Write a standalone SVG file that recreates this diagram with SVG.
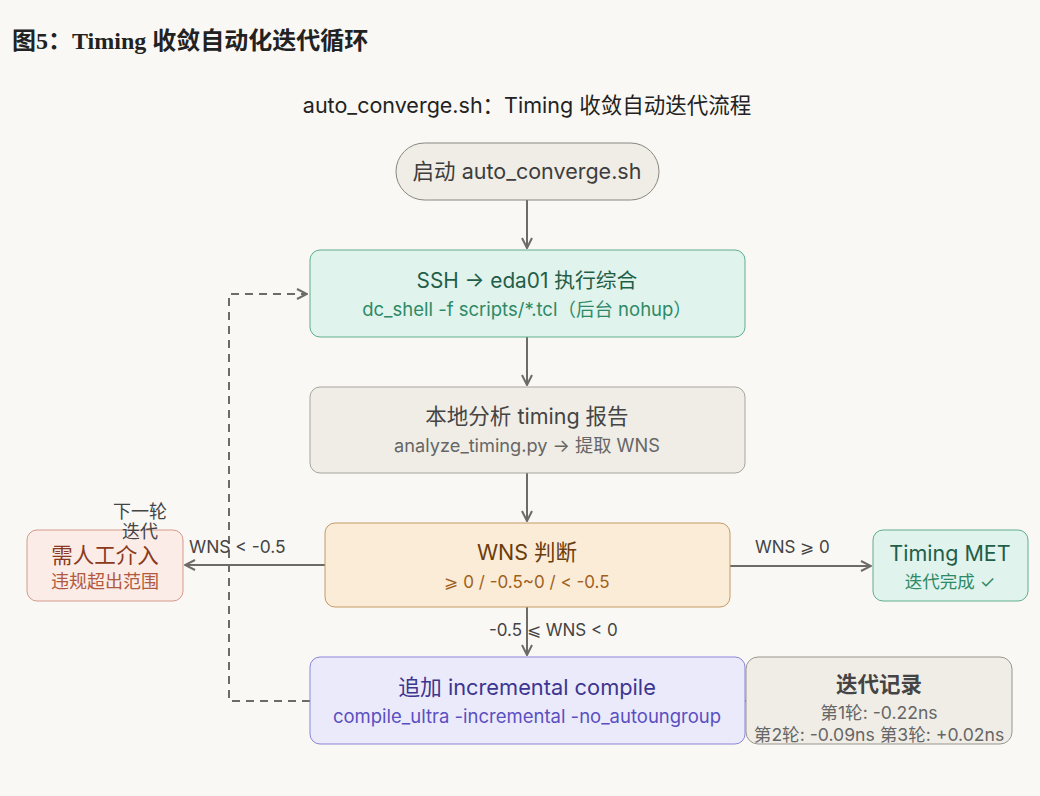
<svg xmlns="http://www.w3.org/2000/svg" width="1040" height="796" viewBox="0 0 1040 796">
<style>
text{font-family:Inter,"Noto Sans","Noto Sans CJK SC",sans-serif;text-anchor:middle}
.lbl{font-size:17px;fill:#444;text-anchor:start}
.conn{stroke:#6e6b67;stroke-width:2;fill:none}
</style>
<defs>
<marker id="ah" viewBox="0 0 12 12" refX="11" refY="6" markerWidth="12" markerHeight="12" markerUnits="userSpaceOnUse" orient="auto">
<path d="M1,1 L11,6 L1,11" fill="none" stroke="#6e6b67" stroke-width="2"/>
</marker>
</defs>
<rect width="1040" height="796" fill="#f9f8f4"/>
<text x="12" y="49" style="font-family:'Liberation Serif','Noto Sans CJK SC',serif;font-size:24px;font-weight:bold;text-anchor:start;fill:#222">图5：Timing 收敛自动化迭代循环</text>
<text x="527" y="113" style="font-size:21.5px;fill:#222">auto_converge.sh：Timing 收敛自动迭代流程</text>

<g id="connectors">
<line class="conn" x1="527" y1="200" x2="527" y2="248" marker-end="url(#ah)"/>
<line class="conn" x1="527" y1="337" x2="527" y2="385" marker-end="url(#ah)"/>
<line class="conn" x1="527" y1="473" x2="527" y2="521" marker-end="url(#ah)"/>
<line class="conn" x1="325" y1="565" x2="185" y2="565" marker-end="url(#ah)"/>
<line class="conn" x1="730" y1="566" x2="871" y2="566" marker-end="url(#ah)"/>
<line class="conn" x1="527" y1="607" x2="527" y2="655" marker-end="url(#ah)"/>
<line class="conn" x1="746" y1="701" x2="678" y2="701" marker-end="url(#ah)"/>
<path class="conn" d="M310,701 H229 V294 H307" stroke-dasharray="8,6" marker-end="url(#ah)"/>
</g>

<g id="start">
<rect x="396" y="143" width="263" height="57" rx="28.5" fill="#f0ede6" stroke="#8a8580" stroke-width="1"/>
<text x="527" y="179" style="font-size:21.5px;fill:#3d3d3d">启动 auto_converge.sh</text>
</g>

<g id="ssh">
<rect x="310" y="250" width="435" height="87" rx="10" fill="#e0f3ec" stroke="#5fae8e" stroke-width="1"/>
<text x="527" y="288" style="font-size:20.8px" fill="#1f5e48">SSH → eda01 执行综合</text>
<text x="527" y="316" style="font-size:18.5px" fill="#2e8a66">dc_shell -f scripts/*.tcl（后台 nohup）</text>
</g>

<g id="analyze">
<rect x="310" y="387" width="435" height="86" rx="10" fill="#f0ede6" stroke="#a8a49e" stroke-width="1"/>
<text x="527" y="424" style="font-size:21.5px" fill="#444">本地分析 timing 报告</text>
<text x="527" y="452" style="font-size:18.2px" fill="#666">analyze_timing.py → 提取 WNS</text>
</g>

<g id="wns">
<rect x="325" y="523" width="405" height="84" rx="10" fill="#fbecd8" stroke="#c49a64" stroke-width="1"/>
<text x="527" y="560" style="font-size:21.5px" fill="#6b3d0c">WNS 判断</text>
<text x="527" y="588" style="font-size:17px" fill="#a0601a">⩾ 0 / -0.5~0 / &lt; -0.5</text>
</g>

<g id="manual">
<rect x="27" y="530" width="156" height="71" rx="10" fill="#fbece8" stroke="#d49a8a" stroke-width="1"/>
<text x="105" y="563" style="font-size:21.5px" fill="#8a3a20">需人工介入</text>
<text x="105" y="588" style="font-size:18px" fill="#b05a40">违规超出范围</text>
</g>

<g id="met">
<rect x="873" y="530" width="155" height="71" rx="10" fill="#e0f3ec" stroke="#5fae8e" stroke-width="1"/>
<text x="950" y="561" style="font-size:21.5px" fill="#1f5e48">Timing MET</text>
<text x="950" y="588" style="font-size:17.5px" fill="#2e8a66">迭代完成 ✓</text>
</g>

<g id="compile">
<rect x="310" y="657" width="435" height="87" rx="10" fill="#ebeafb" stroke="#8a85d8" stroke-width="1"/>
<text x="527" y="695" style="font-size:21.8px" fill="#3d3590">追加 incremental compile</text>
<text x="527" y="723" style="font-size:18.5px" fill="#5a4fc0">compile_ultra -incremental -no_autoungroup</text>
</g>

<g id="record">
<rect x="746" y="657" width="266" height="87" rx="12" fill="#f0ede6" stroke="#999590" stroke-width="1"/>
<text x="879" y="692" style="font-size:21.5px;font-weight:600" fill="#444">迭代记录</text>
<text x="879" y="719" style="font-size:17.6px" fill="#666">第1轮: -0.22ns</text>
<text x="879" y="741" style="font-size:17.6px" fill="#666">第2轮: -0.09ns 第3轮: +0.02ns</text>
</g>

<g id="labels">
<text class="lbl" x="189" y="553" style="font-size:17.4px">WNS &lt; -0.5</text>
<text class="lbl" x="755" y="553">WNS ⩾ 0</text>
<text class="lbl" x="489" y="636">-0.5 ⩽ WNS &lt; 0</text>
<text x="140" y="518" style="font-size:18px;fill:#444">下一轮</text>
<text x="140" y="538" style="font-size:18px;fill:#444">迭代</text>
</g>
</svg>
